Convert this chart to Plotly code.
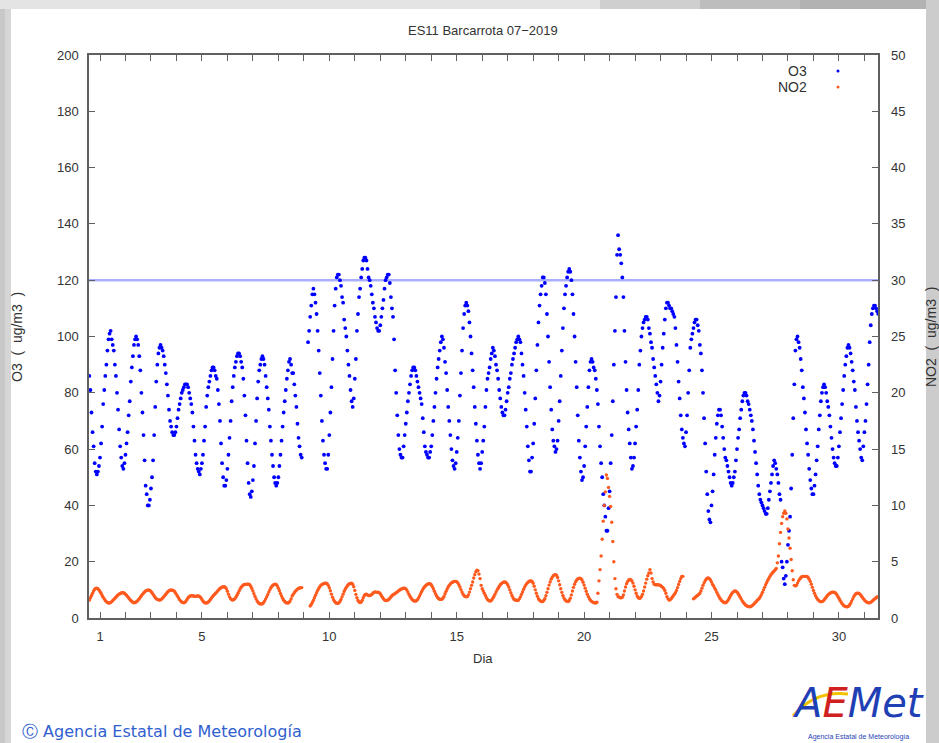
import plotly.graph_objects as go

# ---------------- data (hourly, July 2019) ----------------
days = list(range(1, 32))
hours = list(range(24))

# O3 (ug/m3), one row per day, hours 0..23 (None = missing)
o3 = [
    86, 81, 73, 66, 61, 55, 52, 51, 52, 54, 57, 62, 68, 76, 81, 86, 90, 95, 99, 101, 102, 99, 97, 95,
    90, 86, 80, 74, 67, 61, 57, 54, 53, 55, 58, 62, 66, 72, 77, 84, 89, 93, 97, 99, 100, 99, 97, 93,
    88, 80, 73, 65, 56, 47, 44, 40, 40, 42, 46, 50, 56, 65, 75, 84, 90, 94, 96, 97, 96, 95, 93, 90,
    87, 83, 79, 74, 70, 68, 66, 65, 65, 66, 68, 71, 74, 76, 78, 80, 81, 82, 83, 83, 83, 82, 80, 78,
    76, 73, 68, 63, 58, 55, 53, 52, 51, 53, 55, 58, 63, 68, 75, 79, 82, 84, 86, 88, 89, 89, 88, 86,
    85, 81, 76, 70, 62, 55, 50, 47, 47, 49, 53, 58, 64, 70, 77, 82, 86, 89, 91, 93, 94, 94, 93, 91,
    89, 85, 79, 72, 63, 55, 48, 44, 43, 45, 49, 54, 62, 70, 78, 84, 88, 90, 92, 93, 92, 90, 86, 82,
    78, 74, 68, 63, 58, 54, 50, 48, 47, 48, 50, 54, 58, 63, 68, 73, 77, 81, 85, 88, 91, 92, 90, 87,
    87, 83, 79, 75, 69, 64, 61, 58, 57, None, None, None, None, None, 98, 102, 107, 111, 115, 117, 115, 112, 108, 102,
    95, 87, 79, 70, 63, 58, 55, 53, 53, 58, 65, 73, 82, 92, 102, 111, 117, 121, 122, 122, 120, 118, 114, 112,
    106, 103, 100, 95, 90, 86, 81, 77, 75, 78, 85, 92, 102, 108, 114, 117, 121, 124, 127, 128, 128, 127, 124, 121,
    120, 118, 115, 112, 110, 107, 105, 103, 102, 102, 104, 107, 110, 113, 117, 120, 121, 122, 122, 119, 114, 110, 107, 99,
    88, 80, 72, 65, 60, 58, 57, 57, 61, 65, 69, 73, 77, 80, 83, 86, 88, 89, 89, 88, 86, 84, 82, 80,
    78, 76, 71, 66, 61, 59, 58, 57, 57, 59, 61, 65, 70, 75, 80, 85, 89, 92, 95, 98, 100, 99, 96, 91,
    87, 81, 75, 70, 65, 60, 56, 54, 53, 55, 59, 64, 70, 79, 87, 95, 103, 108, 111, 112, 111, 109, 105, 100,
    94, 88, 82, 75, 69, 63, 58, 55, 53, 55, 59, 63, 68, 75, 81, 85, 87, 89, 92, 94, 96, 95, 93, 90,
    88, 85, 81, 78, 75, 73, 72, 72, 74, 77, 80, 82, 85, 87, 90, 92, 94, 96, 98, 99, 100, 99, 98, 94,
    90, 86, 80, 74, 68, 61, 56, 52, 52, 57, 62, 69, 78, 88, 97, 105, 111, 115, 118, 121, 121, 119, 115, 108,
    100, 91, 82, 74, 67, 63, 61, 59, 60, 63, 70, 77, 86, 95, 103, 110, 115, 118, 121, 123, 124, 123, 120, 115,
    108, 100, 91, 82, 72, 63, 57, 52, 49, 50, 54, 61, 68, 75, 82, 88, 91, 92, 91, 89, 88, 85, 81, 76,
    68, 61, 55, 50, 44, 40, 36, 31, 31, 39, 45, 55, 65, 77, 90, 102, 114, 129, 136, 131, 129, 126, 121, 114,
    102, 91, 81, 73, 67, 62, 57, 53, 54, 57, 62, 68, 74, 81, 90, 95, 100, 103, 105, 106, 107, 107, 106, 103,
    101, 98, 96, 92, 89, 86, 83, 80, 77, 79, 84, 90, 96, 101, 106, 110, 112, 112, 111, 110, 110, 109, 108, 107,
    103, 97, 91, 84, 78, 72, 67, 64, 62, 61, 66, 72, 80, 88, 96, 99, 101, 103, 105, 106, 106, 104, 102, 97,
    94, 88, 80, 71, 62, 52, 44, 38, 35, 34, 40, 45, 51, 58, 64, 69, 72, 74, 74, 72, 68, 64, 60, 57,
    56, 54, 52, 50, 48, 47, 48, 50, 52, 56, 60, 64, 67, 71, 74, 77, 79, 80, 80, 79, 77, 76, 74, 72,
    70, 67, 63, 59, 55, 51, 47, 44, 42, 41, 40, 39, 38, 37, 37, 39, 42, 45, 48, 51, 54, 56, 55, 53,
    51, 48, 44, 42, 20, 18, 14, 12, 15, 20, 26, 31, 36, 46, 58, 71, 83, 95, 99, 100, 98, 96, 92, 88,
    82, 78, 73, 67, 62, 58, 53, 49, 46, 44, 44, 47, 51, 56, 61, 67, 72, 77, 80, 82, 83, 82, 80, 77,
    75, 72, 68, 64, 60, 57, 55, 54, 54, 57, 61, 66, 71, 76, 81, 86, 90, 93, 96, 97, 96, 94, 91, 88,
    84, 81, 75, 70, 66, 63, 60, 57, 56, 61, 66, 70, 76, 83, 90, 98, 104, 108, 110, 111, 111, 110, 109, 108,
]

# NO2 (ug/m3), one row per day, hours 0..23 (None = missing)
no2 = [
    1.6, 1.8, 2.0, 2.2, 2.4, 2.55, 2.62, 2.64, 2.6, 2.5, 2.35, 2.2, 2.0, 1.85, 1.7, 1.55, 1.45, 1.38, 1.33, 1.34, 1.38, 1.45, 1.55, 1.65,
    1.75, 1.85, 1.95, 2.05, 2.12, 2.18, 2.22, 2.25, 2.24, 2.2, 2.12, 2.02, 1.9, 1.78, 1.66, 1.55, 1.46, 1.4, 1.36, 1.37, 1.42, 1.5, 1.6, 1.72,
    1.85, 1.98, 2.1, 2.22, 2.32, 2.4, 2.45, 2.48, 2.49, 2.45, 2.36, 2.24, 2.1, 1.95, 1.82, 1.72, 1.65, 1.61, 1.6, 1.62, 1.68, 1.77, 1.88, 2.0,
    2.12, 2.24, 2.34, 2.42, 2.47, 2.49, 2.48, 2.45, 2.38, 2.25, 2.1, 1.94, 1.78, 1.63, 1.5, 1.42, 1.37, 1.36, 1.4, 1.5, 1.65, 1.8, 1.9, 1.95,
    1.97, 1.98, 1.96, 1.93, 1.92, 1.94, 1.96, 1.95, 1.9, 1.8, 1.65, 1.5, 1.4, 1.34, 1.33, 1.35, 1.42, 1.52, 1.64, 1.77, 1.9, 2.02, 2.12, 2.21,
    2.3, 2.42, 2.53, 2.62, 2.69, 2.74, 2.77, 2.78, 2.74, 2.6, 2.38, 2.12, 1.88, 1.72, 1.63, 1.6, 1.63, 1.72, 1.85, 2.02, 2.2, 2.4, 2.58, 2.74,
    2.85, 2.93, 2.97, 2.99, 3.0, 3.0, 3.0, 2.95, 2.82, 2.62, 2.4, 2.15, 1.92, 1.7, 1.52, 1.38, 1.29, 1.25, 1.24, 1.27, 1.36, 1.5, 1.68, 1.88,
    2.08, 2.3, 2.5, 2.68, 2.82, 2.92, 2.98, 3.0, 2.97, 2.85, 2.65, 2.42, 2.18, 1.95, 1.75, 1.58, 1.46, 1.38, 1.34, 1.33, 1.38, 1.5, 1.7, 1.95,
    2.1, 2.25, 2.38, 2.48, 2.56, 2.62, 2.66, 2.69, 2.7, None, None, None, None, None, None, None, 1.07, 1.2, 1.38, 1.58, 1.8, 2.02, 2.24, 2.45,
    2.62, 2.78, 2.9, 2.98, 3.03, 3.06, 3.08, 3.08, 3.04, 2.9, 2.68, 2.42, 2.12, 1.85, 1.62, 1.46, 1.36, 1.31, 1.3, 1.34, 1.46, 1.65, 1.88, 2.12,
    2.35, 2.55, 2.72, 2.86, 2.97, 3.04, 3.07, 3.08, 3.0, 2.78, 2.45, 2.1, 1.8, 1.56, 1.42, 1.37, 1.42, 1.58, 1.8, 2.0, 2.1, 2.12, 2.05, 2.0,
    2.0, 2.02, 2.1, 2.2, 2.28, 2.32, 2.3, 2.28, 2.3, 2.25, 2.15, 2.0, 1.85, 1.7, 1.6, 1.56, 1.55, 1.58, 1.65, 1.75, 1.87, 1.98, 2.06, 2.12,
    2.18, 2.25, 2.32, 2.4, 2.47, 2.53, 2.58, 2.62, 2.64, 2.65, 2.6, 2.48, 2.3, 2.1, 1.92, 1.77, 1.65, 1.56, 1.51, 1.5, 1.53, 1.62, 1.77, 1.95,
    2.15, 2.35, 2.53, 2.68, 2.8, 2.9, 2.97, 3.02, 3.05, 3.04, 2.95, 2.8, 2.6, 2.38, 2.16, 1.97, 1.82, 1.72, 1.67, 1.65, 1.66, 1.75, 1.92, 2.15,
    2.38, 2.58, 2.76, 2.9, 3.02, 3.12, 3.18, 3.22, 3.25, 3.25, 3.22, 3.12, 2.95, 2.75, 2.52, 2.3, 2.12, 1.98, 1.9, 1.88, 1.9, 2.05, 2.3, 2.6,
    2.9, 3.2, 3.55, 3.85, 4.1, 4.25, 4.2, 3.9, 3.5, 2.9, 2.6, 2.4, 2.2, 2.0, 1.8, 1.65, 1.55, 1.5, 1.52, 1.6, 1.75, 1.92, 2.1, 2.3,
    2.48, 2.65, 2.8, 2.95, 3.05, 3.12, 3.17, 3.2, 3.18, 3.1, 2.95, 2.75, 2.5, 2.25, 2.0, 1.8, 1.65, 1.6, 1.57, 1.55, 1.58, 1.7, 1.88, 2.1,
    2.32, 2.55, 2.75, 2.92, 3.06, 3.16, 3.24, 3.28, 3.3, 3.25, 3.08, 2.82, 2.5, 2.2, 1.93, 1.72, 1.58, 1.5, 1.47, 1.47, 1.55, 1.72, 1.98, 2.28,
    2.6, 2.92, 3.2, 3.45, 3.63, 3.76, 3.83, 3.85, 3.8, 3.6, 3.3, 2.95, 2.6, 2.28, 2.0, 1.78, 1.62, 1.52, 1.48, 1.47, 1.55, 1.75, 2.05, 2.4,
    2.72, 3.0, 3.22, 3.38, 3.47, 3.52, 3.53, 3.5, 3.38, 3.18, 2.92, 2.65, 2.38, 2.12, 1.9, 1.72, 1.58, 1.48, 1.41, 1.37, 1.34, 1.33, 1.4, 2.2,
    3.3, 4.3, 5.5, 7.0, 8.6, 10.0, 11.2, 12.7, 12.4, 11.6, 10.8, 9.9, 8.5, 6.8, 5.0, 3.5, 2.6, 2.1, 1.9, 1.85, 1.8, 1.8, 1.85, 2.05,
    2.4, 2.75, 3.05, 3.25, 3.38, 3.42, 3.4, 3.3, 3.1, 2.82, 2.5, 2.2, 1.95, 1.8, 1.75, 1.78, 1.9, 2.1, 2.4, 2.75, 3.1, 3.45, 3.75, 4.0,
    4.3, 4.0, 3.5, 3.2, 3.0, 2.95, 2.95, 2.95, 2.95, 2.92, 2.88, 2.8, 2.72, 2.62, 2.45, 2.2, 1.9, 1.7, 1.6, 1.62, 1.72, 1.85, 1.98, 2.1,
    2.25, 2.45, 2.7, 2.98, 3.25, 3.5, 3.7, 3.7, None, None, None, None, None, None, None, None, None, 1.7, 1.78, 1.86, 1.94, 2.02, 2.1, 2.2,
    2.4, 2.65, 2.9, 3.12, 3.3, 3.45, 3.53, 3.55, 3.5, 3.38, 3.2, 2.98, 2.85, 2.65, 2.48, 2.28, 2.08, 1.9, 1.74, 1.6, 1.5, 1.42, 1.37, 1.36,
    1.4, 1.5, 1.65, 1.82, 2.0, 2.15, 2.28, 2.36, 2.4, 2.38, 2.3, 2.18, 2.02, 1.85, 1.68, 1.52, 1.38, 1.26, 1.16, 1.09, 1.04, 1.01, 1.0, 1.02,
    1.08, 1.15, 1.25, 1.35, 1.45, 1.55, 1.65, 1.75, 1.9, 2.08, 2.28, 2.5, 2.72, 2.95, 3.15, 3.35, 3.52, 3.7, 3.85, 3.98, 4.08, 4.18, 4.28, 4.4,
    4.9, 5.5, 6.6, 7.6, 8.4, 9.0, 9.3, 9.5, 9.3, 8.8, 7.9, 7.1, 6.2, 5.2, 4.2, 3.4, 2.9, 2.85, 2.9, 3.1, 3.3, 3.45, 3.58, 3.66,
    3.68, 3.7, 3.7, 3.7, 3.68, 3.6, 3.45, 3.25, 3.0, 2.72, 2.45, 2.2, 1.98, 1.8, 1.65, 1.55, 1.48, 1.45, 1.45, 1.5, 1.6, 1.72, 1.85, 1.98,
    2.08, 2.16, 2.23, 2.27, 2.3, 2.3, 2.27, 2.2, 2.08, 1.92, 1.75, 1.58, 1.42, 1.28, 1.16, 1.08, 1.03, 1.0, 1.0, 1.05, 1.15, 1.3, 1.5, 1.7,
    1.9, 2.05, 2.15, 2.2, 2.2, 2.18, 2.1, 1.98, 1.85, 1.72, 1.6, 1.5, 1.43, 1.38, 1.36, 1.36, 1.4, 1.46, 1.55, 1.64, 1.72, 1.8, 1.86, 1.9,
]

o3_limit = 120
x_ticks = list(range(1, 32))
x_labels = ["1", "5", "10", "15", "20", "25", "30"]
y_ticks = [0, 20, 40, 60, 80, 100, 120, 140, 160, 180, 200]
y2_ticks = [0, 5, 10, 15, 20, 25, 30, 35, 40, 45, 50]

# time coordinate of every hourly sample (day units)
x_time = [d + (h - 10) / 24 for d in days for h in hours]

W, H = 939, 743
L, R, T, B = 89, 878, 55, 618
pw, ph = R - L, B - T

def px(xp):
    return (xp - L) / pw

def py(yp):
    return (B - yp) / ph

FONT = "Liberation Sans, Arial, sans-serif"
TXT = "#333333"
AX = "#606060"

fig = go.Figure()
fig.add_trace(go.Scatter(x=x_time, y=o3, mode="markers", name="O3",
                         marker=dict(color="#0000ff", size=3.8, line=dict(width=0)),
                         yaxis="y", showlegend=False))
fig.add_trace(go.Scatter(x=x_time, y=no2, mode="markers", name="NO2",
                         marker=dict(color="#ff5a1e", size=3.4, line=dict(width=0)),
                         yaxis="y2", showlegend=False))

fig.add_shape(type="line", xref="paper", x0=0, x1=1, yref="y", y0=o3_limit, y1=o3_limit,
              line=dict(color="#aab0ff", width=2.5), layer="below")

# frame background strips (grey border of the original page)
def strip(x0, x1, y0, y1, col):
    fig.add_shape(type="rect", xref="paper", yref="paper", x0=px(x0), x1=px(x1),
                  y0=py(y1), y1=py(y0), fillcolor=col, line=dict(width=0), layer="below")

strip(0, 11, 0, 743, "#d6d6d6")
strip(0, 5, 0, 743, "#c8c8c8")
strip(0, 600, 0, 9, "#e4e4e4")
strip(600, 700, 0, 9, "#cfcfcf")
strip(700, 800, 0, 9, "#bdbdbd")
strip(800, 939, 0, 9, "#b2b2b2")
strip(926, 939, 0, 743, "#cccccc")

tick_text = [str(d) if str(d) in x_labels else "" for d in x_ticks]

fig.update_layout(
    width=W, height=H,
    margin=dict(l=L, r=W - R, t=T, b=H - B, pad=0),
    paper_bgcolor="white", plot_bgcolor="white",
    font=dict(family=FONT, size=13, color=TXT),
    xaxis=dict(range=[1 + (L - 100) / 25.48, 1 + (R - 100) / 25.48],
               tickvals=x_ticks, ticktext=tick_text, ticks="inside", ticklen=6,
               tickcolor=AX, tickwidth=1, showline=True, linecolor=AX, linewidth=1.5,
               mirror="ticks", showgrid=False, zeroline=False, ticklabelstandoff=6),
    yaxis=dict(range=[0, 200], tickvals=y_ticks, ticks="inside", ticklen=6,
               tickcolor=AX, tickwidth=1, showline=True, linecolor=AX, linewidth=1.5,
               mirror=True, showgrid=False, zeroline=False, ticklabelstandoff=6),
    yaxis2=dict(range=[0, 50], tickvals=y2_ticks, ticks="inside", ticklen=6,
                tickcolor=AX, tickwidth=1, overlaying="y", side="right",
                showline=False, showgrid=False, zeroline=False, ticklabelstandoff=12),
)

ann = [
    dict(text="ES11 Barcarrota 07\u22122019", x=px(483), y=py(31), font=dict(size=13)),
    dict(text="Dia", x=px(483), y=py(658), font=dict(size=13)),
    dict(text="O3  (  ug/m3  )", x=px(17), y=py(337), textangle=-90, font=dict(size=14)),
    dict(text="NO2  (  ug/m3  )", x=px(931), y=py(337), textangle=-90, font=dict(size=14)),
    dict(text="O3", x=px(809), y=py(71), xanchor="right", font=dict(size=14)),
    dict(text="NO2", x=px(809), y=py(87), xanchor="right", font=dict(size=14)),
    dict(text="\u24b8 Agencia Estatal de Meteorología", x=px(20), y=py(731), xanchor="left",
         font=dict(size=16, color="#3060d0", family="DejaVu Sans, sans-serif")),
    dict(text="<i><span style='color:#1f3fb4'>A</span><span style='color:#d02020'>E</span>"
              "<span style='color:#1f3fb4'>Met</span></i>",
         x=px(858), y=py(703), font=dict(size=40, family="DejaVu Sans, sans-serif")),
    dict(text="Agencia Estatal de Meteorología", x=px(858), y=py(737),
         font=dict(size=7, color="#1f3fb4")),
]
for a in ann:
    a.setdefault("xref", "paper")
    a.setdefault("yref", "paper")
    a.setdefault("showarrow", False)
    a.setdefault("xanchor", "center")
    a.setdefault("yanchor", "middle")
    fig.add_annotation(**a)

# yellow swoosh of the logo
fig.add_shape(type="path", xref="paper", yref="paper",
              path=f"M {px(793)},{py(716)} Q {px(815)},{py(690)} {px(848)},{py(694)}",
              line=dict(color="#f2c200", width=3))

# legend sample dots
for yy, col in ((71, "#0000ff"), (87, "#ff5a1e")):
    fig.add_shape(type="circle", xref="paper", yref="paper",
                  x0=px(836.5), x1=px(839.5), y0=py(yy + 1.5), y1=py(yy - 1.5),
                  fillcolor=col, line=dict(width=0))

fig.write_html("out.html", config={"displayModeBar": False},
               post_script="document.body.style.margin='0';document.body.style.overflow='hidden';")
